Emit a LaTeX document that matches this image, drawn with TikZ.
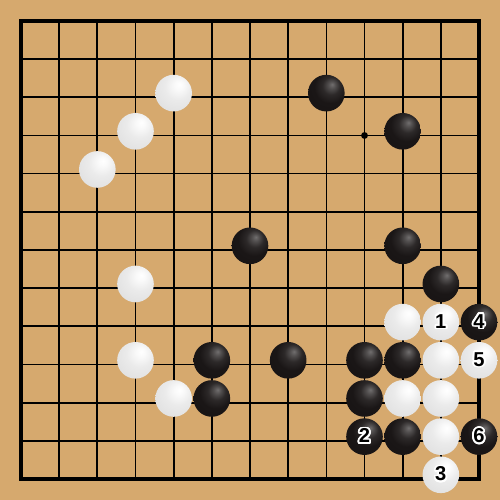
\documentclass[tikz,border=0pt]{standalone}
\usepackage{fontspec}
\usepackage{xcolor}
\usepackage{contour}
\usepackage{tikz}
\usetikzlibrary{calc, positioning}

\newfontfamily\numfont{Liberation Sans}
\contourlength{1.3pt}
\contournumber{24}

\definecolor{board}{RGB}{214,169,110}
\definecolor{stonedark}{RGB}{26,22,22}

\pgfdeclareradialshading{whiteshade}{\pgfpoint{8bp}{12bp}}{color(0bp)=(white); color(6bp)=(white!98!black); color(18bp)=(white!92!black); color(35bp)=(white!88!black); color(50bp)=(white!82!black); color(70bp)=(white!74!black)}
\pgfdeclareradialshading{blackshade}{\pgfpoint{8bp}{12bp}}{color(0bp)=(stonedark!62!white); color(5bp)=(stonedark!76!white); color(12bp)=(stonedark!92!white); color(22bp)=(stonedark); color(50bp)=(stonedark!85!black); color(70bp)=(black)}

\begin{document}
\begin{tikzpicture}[
    wstone/.style={circle, inner sep=0pt, minimum size=0.96cm, shading=whiteshade},
    bstone/.style={circle, inner sep=0pt, minimum size=0.96cm, shading=blackshade},
    movenum/.style={font=\numfont\bfseries\fontsize{15}{15}\selectfont, text=black}
]
                    \fill[board] (-0.55, -0.55) rectangle (12.55, 12.55);
                    \useasboundingbox (-0.55, -0.55) rectangle (12.55, 12.55);

                    % grid
                    \foreach \i in {1,...,11} {
                        \draw[line width=1.25pt] (\i, 0) -- (\i, 12);
                        \draw[line width=1.25pt] (0, \i) -- (12, \i);
                    }
                    \draw[line width=3pt] (0, 0) rectangle (12, 12);
                    \fill (9, 9) circle (0.09);

                    % white stones
                    \foreach \x/\y [count=\n] in {4/10, 3/9, 2/8, 3/5, 3/3, 4/2, 10/4, 10/2, 11/3, 11/2, 11/1}
                        \node[wstone] (w\n) at (\x, \y + 0.11) {};

                    % black stones
                    \foreach \x/\y [count=\n] in {8/10, 10/9, 6/6, 10/6, 11/5, 5/3, 7/3, 9/3, 10/3, 5/2, 9/2, 10/1}
                        \node[bstone] (b\n) at (\x, \y + 0.11) {};

                    % numbered moves
                    \node[wstone] (m1) at (11, 4.11) {};
                    \node[bstone] (m2) at (9, 1.11) {};
                    \node[wstone] (m3) at (11, 0.11) {};
                    \node[bstone] (m4) at (12, 4.11) {};
                    \node[wstone] (m5) at (12, 3.11) {};
                    \node[bstone] (m6) at (12, 1.11) {};

                    \foreach \n in {1,...,6}
                        \node[movenum] (t\n) at (m\n) {\contour{white}{\n}};
                \end{tikzpicture}
\end{document}
